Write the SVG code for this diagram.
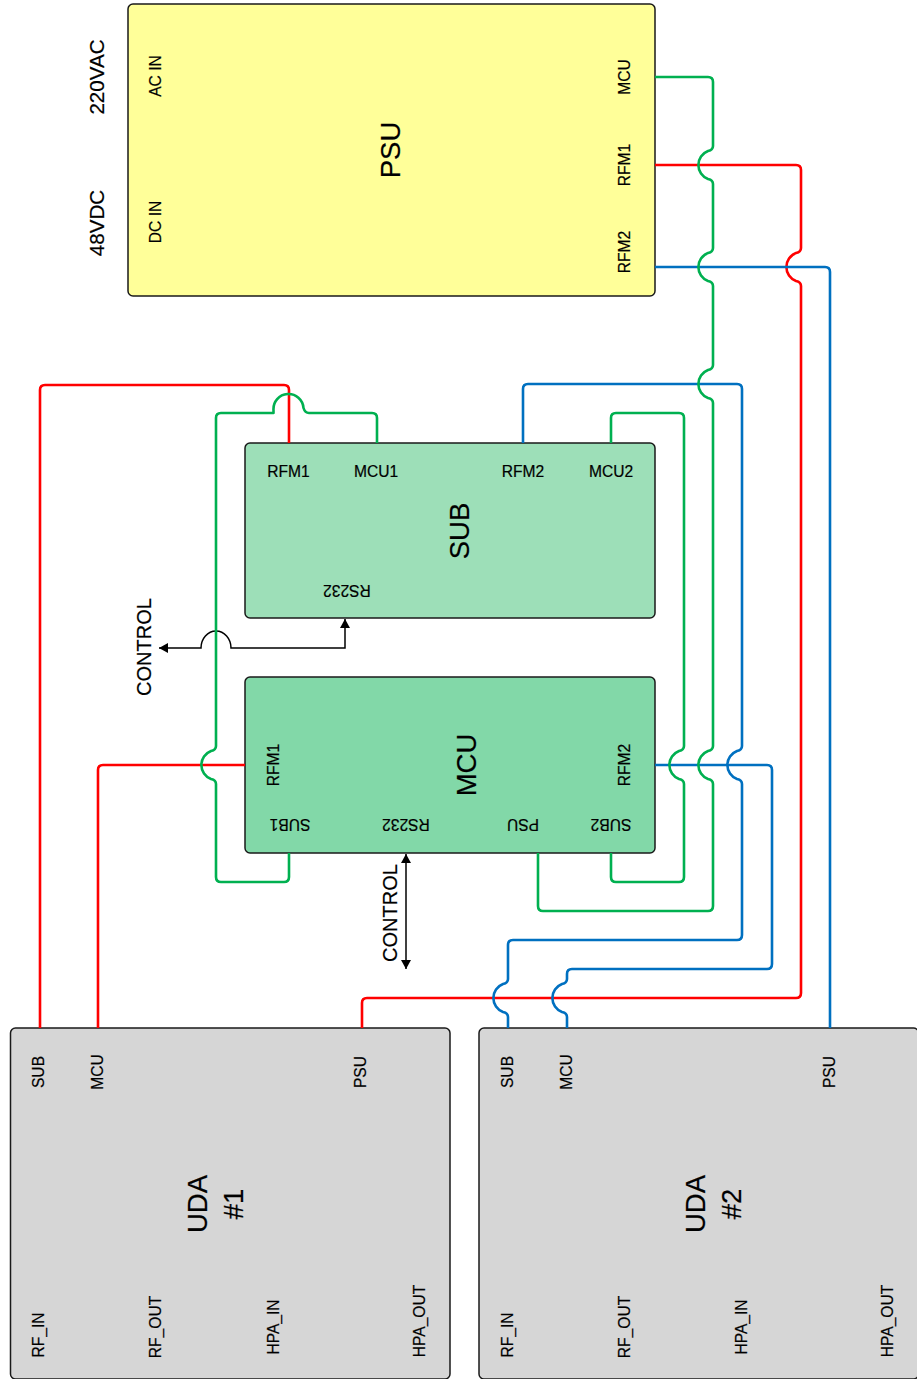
<svg xmlns="http://www.w3.org/2000/svg" width="917" height="1379" viewBox="0 0 917 1379">
<style>
text{font-family:"Liberation Sans",Arial,sans-serif;fill:#000;stroke:#000;stroke-width:.2;text-anchor:middle;dominant-baseline:central}
.p{font-size:15.600px}.l{font-size:20px}.v{font-size:20.600px}.t{font-size:27.500px}
.box{stroke:#1a1a1a;stroke-width:1.5}
.w{fill:none;stroke-width:2.6;stroke-linejoin:round}
.r{stroke:#ff0000}.g{stroke:#00b050}.b{stroke:#0070c0}
.k{fill:none;stroke:#000;stroke-width:1.5}
</style>
<defs>
<marker id="a" markerWidth="10" markerHeight="10" refX="9" refY="5" orient="auto-start-reverse" markerUnits="userSpaceOnUse"><path d="M0,0L9,5L0,10Z" fill="#000"/></marker>
</defs>
<g id="psu"><rect class="box" x="128" y="4" width="527" height="292" rx="5" fill="#ffff99"/>
<text class="t" transform="translate(390,150) rotate(-90)">PSU</text>
<text class="p" transform="translate(155,76) rotate(-90)">AC IN</text>
<text class="p" transform="translate(155,222) rotate(-90)">DC IN</text>
<text class="v" transform="translate(96.500,77) rotate(-90)">220VAC</text>
<text class="v" transform="translate(96.500,223) rotate(-90)">48VDC</text>
<text class="p" transform="translate(624,77) rotate(-90)">MCU</text>
<text class="p" transform="translate(624,165) rotate(-90)">RFM1</text>
<text class="p" transform="translate(624,252) rotate(-90)">RFM2</text></g>
<g id="sub"><rect class="box" x="245" y="443" width="410" height="175" rx="5" fill="#9ddfb8"/>
<text class="t" transform="translate(459,531) rotate(-90)">SUB</text>
<text class="p" x="288.500" y="471">RFM1</text><text class="p" x="376" y="471">MCU1</text>
<text class="p" x="523" y="471">RFM2</text><text class="p" x="611" y="471">MCU2</text>
<text class="p" transform="translate(347,590) rotate(180)">RS232</text></g>
<g id="mcu"><rect class="box" x="245" y="677" width="410" height="176" rx="5" fill="#82d8a8"/>
<text class="t" transform="translate(466,765) rotate(-90)">MCU</text>
<text class="p" transform="translate(273,765) rotate(-90)">RFM1</text>
<text class="p" transform="translate(624,765) rotate(-90)">RFM2</text>
<text class="p" transform="translate(290,824) rotate(180)">SUB1</text>
<text class="p" transform="translate(406,824) rotate(180)">RS232</text>
<text class="p" transform="translate(523,824) rotate(180)">PSU</text>
<text class="p" transform="translate(611,824) rotate(180)">SUB2</text></g>
<g id="uda1"><rect class="box" x="10.500" y="1028" width="439.500" height="351" rx="5" fill="#d6d6d6"/>
<text class="t" transform="translate(197,1204) rotate(-90)">UDA</text>
<text class="t" transform="translate(233,1204) rotate(-90)">#1</text>
<text class="p" transform="translate(38,1072) rotate(-90)">SUB</text>
<text class="p" transform="translate(97,1072) rotate(-90)">MCU</text>
<text class="p" transform="translate(360,1072) rotate(-90)">PSU</text>
<text class="p" transform="translate(38,1335) rotate(-90)">RF_IN</text>
<text class="p" transform="translate(155,1327) rotate(-90)">RF_OUT</text>
<text class="p" transform="translate(273,1327) rotate(-90)">HPA_IN</text>
<text class="p" transform="translate(419,1321) rotate(-90)">HPA_OUT</text></g>
<g id="uda2"><rect class="box" x="479" y="1028" width="439.500" height="351" rx="5" fill="#d6d6d6"/>
<text class="t" transform="translate(695,1204) rotate(-90)">UDA</text>
<text class="t" transform="translate(731,1204) rotate(-90)">#2</text>
<text class="p" transform="translate(507,1072) rotate(-90)">SUB</text>
<text class="p" transform="translate(566,1072) rotate(-90)">MCU</text>
<text class="p" transform="translate(829,1072) rotate(-90)">PSU</text>
<text class="p" transform="translate(507,1335) rotate(-90)">RF_IN</text>
<text class="p" transform="translate(624,1327) rotate(-90)">RF_OUT</text>
<text class="p" transform="translate(741,1327) rotate(-90)">HPA_IN</text>
<text class="p" transform="translate(887,1321) rotate(-90)">HPA_OUT</text></g>
<g id="control-labels">
<text class="l" transform="translate(144,647) rotate(-90)">CONTROL</text>
<text class="l" transform="translate(389.500,913) rotate(-90)">CONTROL</text></g>
<g id="connectors">
<path class="k" marker-start="url(#a)" marker-end="url(#a)" d="M345,619V648H231A15,17 0 0 0 201,648H159"/>
<path class="k" marker-start="url(#a)" marker-end="url(#a)" d="M406,854V969"/>
<path class="w r" d="M655,165H796Q801,165 801,170V248Q801,252 796,253A15,15 0 0 0 796,281Q801,282 801,286V993Q801,998 796,998H367Q362,998 362,1003V1028"/>
<path class="w r" d="M40,1028V390Q40,385 45,385H284Q289,385 289,390V443"/>
<path class="w r" d="M245,765H103Q98,765 98,770V1028"/>
<path class="w b" d="M655,267H825Q830,267 830,272V1028"/>
<path class="w b" d="M523,443V389Q523,384 528,384H737Q742,384 742,389V746Q742,750 737,751A15,15 0 0 0 737,779Q742,780 742,784V935Q742,940 737,940H513Q508,940 508,945V979Q508,983 503,984A15,15 0 0 0 503,1012Q508,1013 508,1017V1028"/>
<path class="w b" d="M655,765H767Q772,765 772,770V964Q772,969 767,969H572Q567,969 567,974V979Q567,983 562,984A15,15 0 0 0 562,1012Q567,1013 567,1017V1028"/>
<path class="w g" d="M655,77H708Q713,77 713,82V146Q713,150 708,151A15,15 0 0 0 708,179Q713,180 713,184V248Q713,252 708,253A15,15 0 0 0 708,281Q713,282 713,286V365Q713,369 708,370A15,15 0 0 0 708,398Q713,399 713,403V746Q713,750 708,751A15,15 0 0 0 708,779Q713,780 713,784V906Q713,911 708,911H543Q538,911 538,906V853"/>
<path class="w g" d="M377,443V418Q377,413 372,413H309Q305,413 303.500,408A15,15 0 0 0 273.500,410V413H221Q216,413 216,418V746Q216,750 211,751A15,15 0 0 0 211,779Q216,780 216,784V877Q216,882 221,882H284Q289,882 289,877V853"/>
<path class="w g" d="M611,443V418Q611,413 616,413H679Q684,413 684,418V746Q684,750 679,751A15,15 0 0 0 679,779Q684,780 684,784V877Q684,882 679,882H616Q611,882 611,877V853"/>
</g>
</svg>
